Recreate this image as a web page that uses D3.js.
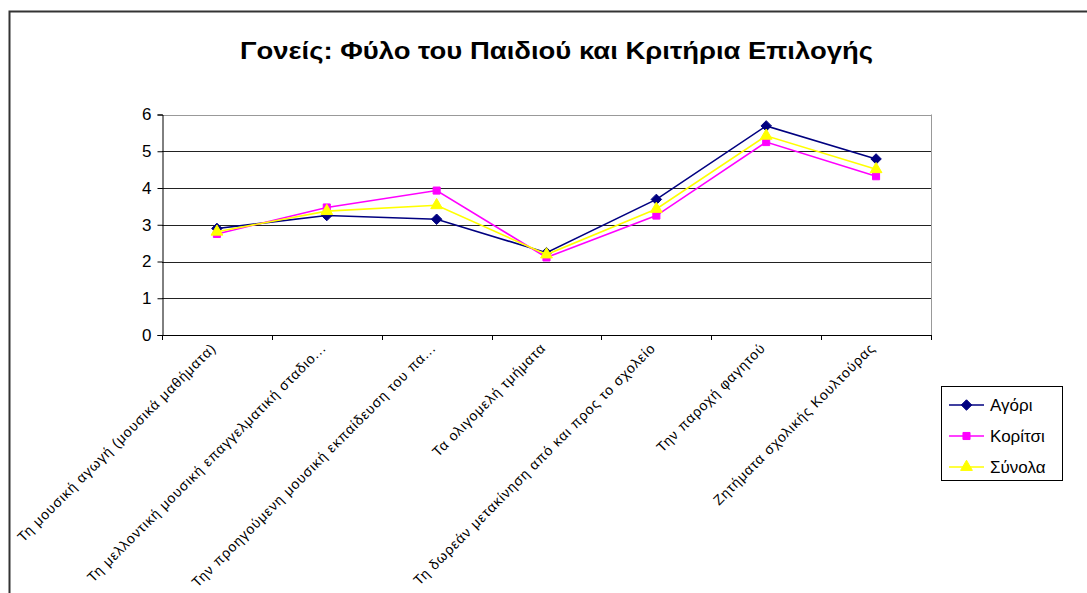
<!DOCTYPE html>
<html>
<head>
<meta charset="utf-8">
<script src="https://cdn.jsdelivr.net/npm/d3@7"></script>
<style>
  body { margin: 0; background: #fff; }
  svg { display: block; font-family: "Liberation Sans", Arial, sans-serif; }
</style>
</head>
<body>
<svg id="chart" width="1087" height="593"></svg>
<script>
// Criteria labels (x axis)
const categories = [
  "Τη μουσική αγωγή (μουσικά μαθήματα)",
  "Τη μελλοντική μουσική επαγγελματική σταδιο...",
  "Την προηγούμενη μουσική εκπαίδευση του πα...",
  "Τα ολιγομελή τμήματα",
  "Τη δωρεάν μετακίνηση από και προς το σχολείο",
  "Την παροχή φαγητού",
  "Ζητήματα σχολικής Κουλτούρας"
];
const seriesNames = ["Αγόρι", "Κορίτσι", "Σύνολα"];
const boys   = [2.90, 3.25, 3.15, 2.24, 3.69, 5.69, 4.79];
const girls  = [2.75, 3.47, 3.93, 2.11, 3.25, 5.25, 4.32];
const totals = [2.81, 3.37, 3.53, 2.19, 3.43, 5.42, 4.51];
const yTicks = [0, 1, 2, 3, 4, 5, 6];

const series = [
  { name: seriesNames[0], values: boys,   color: "#000080", symbol: d3.symbolDiamond2, size: 70 },
  { name: seriesNames[1], values: girls,  color: "#FF00FF", symbol: d3.symbolSquare,   size: 50 },
  { name: seriesNames[2], values: totals, color: "#FFFF00", symbol: d3.symbolTriangle, size: 60 }
];

const svg = d3.select("#chart");
const plot = { left: 162, right: 931, top: 114.5, bottom: 335 };

// Outer chart frame
svg.append("path")
  .attr("d", "M9.5,593 L9.5,11.5 L1087,11.5")
  .attr("fill", "none").attr("stroke", "#333").attr("stroke-width", 2);

svg.append("text")
  .attr("x", 240).attr("y", 59)
  .attr("font-size", 23).attr("font-weight", "bold")
  .attr("textLength", 633).attr("lengthAdjust", "spacingAndGlyphs")
  .text("Γονείς: Φύλο του Παιδιού και Κριτήρια Επιλογής");

const x = d3.scaleBand().domain(categories).range([plot.left, plot.right]);
const y = d3.scaleLinear().domain([0, 6]).range([plot.bottom, plot.top]);

// Gridlines
svg.append("g").selectAll("line").data(yTicks.filter(t => t > 0)).join("line")
  .attr("x1", plot.left).attr("x2", plot.right)
  .attr("y1", d => Math.round(y(d)) + 0.5).attr("y2", d => Math.round(y(d)) + 0.5)
  .attr("stroke", d => d === 6 ? "#999" : "#222").attr("stroke-width", 1);

// Plot-area right edge
svg.append("line")
  .attr("x1", plot.right + 0.5).attr("x2", plot.right + 0.5)
  .attr("y1", y(6)).attr("y2", plot.bottom)
  .attr("stroke", "#999");

// Y axis
const yAxis = svg.append("g")
  .attr("transform", `translate(${plot.left + 0.5},0)`)
  .call(d3.axisLeft(y).tickValues(yTicks).tickFormat(d3.format("d")).tickSize(5).tickPadding(6));
yAxis.select(".domain").attr("stroke", "#000");
yAxis.selectAll(".tick line").attr("stroke", "#000");
yAxis.selectAll("text").attr("font-size", 17).attr("font-family", "Liberation Sans, Arial, sans-serif").attr("fill", "#000");

// X axis with ticks at category boundaries
const boundaries = d3.range(categories.length + 1).map(i => plot.left + i * x.bandwidth());
svg.append("line")
  .attr("x1", plot.left).attr("x2", plot.right + 1)
  .attr("y1", plot.bottom + 0.5).attr("y2", plot.bottom + 0.5)
  .attr("stroke", "#000");
svg.append("g").selectAll("line").data(boundaries).join("line")
  .attr("x1", d => Math.round(d) + 0.5).attr("x2", d => Math.round(d) + 0.5)
  .attr("y1", plot.bottom).attr("y2", plot.bottom + 5)
  .attr("stroke", "#000");

// Rotated category labels
svg.append("g").selectAll("text").data(categories).join("text")
  .attr("transform", d => `translate(${x(d) + x.bandwidth() / 2},${plot.bottom + 14}) rotate(-45)`)
  .attr("text-anchor", "end")
  .attr("font-size", 14)
  .attr("letter-spacing", 0.9)
  .attr("fill", "#000")
  .text(d => d);

// Lines and markers
const line = d3.line()
  .x((d, i) => x(categories[i]) + x.bandwidth() / 2)
  .y(d => y(d));

const sg = svg.append("g").selectAll("g").data(series).join("g");
sg.append("path")
  .attr("d", s => line(s.values))
  .attr("fill", "none")
  .attr("stroke", s => s.color)
  .attr("stroke-width", 1.6);
sg.each(function (s) {
  d3.select(this).selectAll("path.m").data(s.values).join("path")
    .attr("class", "m")
    .attr("transform", (d, i) => `translate(${x(categories[i]) + x.bandwidth() / 2},${y(d)})`)
    .attr("d", d3.symbol().type(s.symbol).size(s.size))
    .attr("fill", s.color)
    .attr("stroke", s.color);
});

// Legend
const lg = svg.append("g");
lg.append("rect")
  .attr("x", 941.5).attr("y", 386.5).attr("width", 121).attr("height", 94)
  .attr("fill", "#fff").attr("stroke", "#000");
const li = lg.selectAll("g").data(series).join("g")
  .attr("transform", (s, i) => `translate(0,${405 + i * 31})`);
li.append("line")
  .attr("x1", 949).attr("x2", 984).attr("y1", 0).attr("y2", 0)
  .attr("stroke", s => s.color).attr("stroke-width", 1.6);
li.append("path")
  .attr("transform", "translate(966.5,0)")
  .attr("d", s => d3.symbol().type(s.symbol).size(s.size)())
  .attr("fill", s => s.color).attr("stroke", s => s.color);
li.append("text")
  .attr("x", 990).attr("y", 6)
  .attr("font-size", 17)
  .attr("fill", "#000")
  .text(s => s.name);
</script>
</body>
</html>
